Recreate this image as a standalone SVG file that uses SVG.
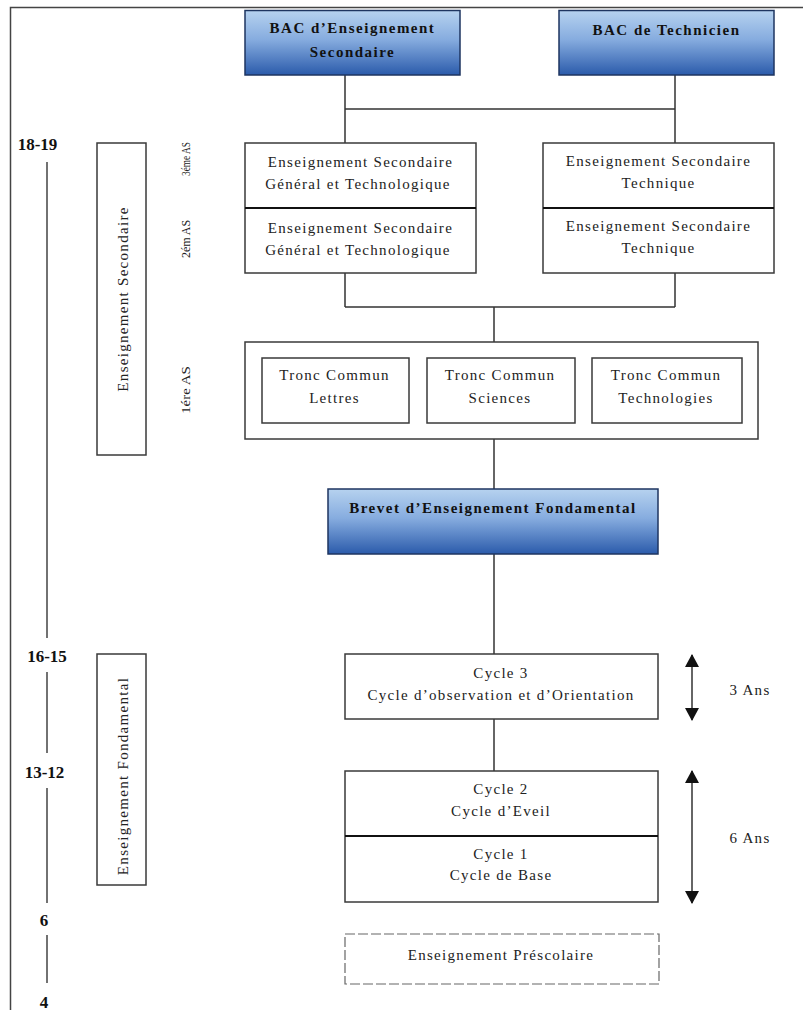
<svg xmlns="http://www.w3.org/2000/svg" width="803" height="1010" viewBox="0 0 803 1010">
  <style>
    .box { fill: #ffffff; stroke: #3a3a3a; stroke-width: 1.5; }
    .bac { fill: url(#blue); stroke: #1e3560; stroke-width: 1.5; }
    .div { stroke: #111; stroke-width: 2.2; }
    .conn { fill: none; stroke: #333; stroke-width: 1.5; }
    .scale { fill: none; stroke: #444; stroke-width: 1.5; }
    .t { font-family: "Liberation Serif", "Times New Roman", serif; font-size: 15px; letter-spacing: 1.3px; fill: #222; text-anchor: middle; }
    .b { font-family: "Liberation Serif", "Times New Roman", serif; font-size: 15px; font-weight: bold; letter-spacing: 1.5px; fill: #111; text-anchor: middle; }
    .age { font-family: "Liberation Serif", "Times New Roman", serif; font-size: 17px; font-weight: bold; fill: #111; text-anchor: middle; }
    .small { font-family: "Liberation Serif", "Times New Roman", serif; font-size: 13px; fill: #222; text-anchor: middle; }
  </style>
  <defs>
    <linearGradient id="blue" x1="0" y1="0" x2="0" y2="1">
      <stop offset="0" stop-color="#b6d2ef"/>
      <stop offset="0.45" stop-color="#86acdf"/>
      <stop offset="1" stop-color="#2b5bab"/>
    </linearGradient>
    <marker id="ah" viewBox="0 0 13 14" refX="12" refY="7" markerWidth="13" markerHeight="14" markerUnits="userSpaceOnUse" orient="auto-start-reverse">
      <path d="M0,0 L13,7 L0,14 Z" fill="#111"/>
    </marker>
  </defs>

  <rect width="803" height="1010" fill="#ffffff"/>

  <!-- outer frame -->
  <g id="frame">
    <path class="scale" d="M10.5,1010 V7.5 H803" stroke="#222"/>
  </g>

  <!-- age scale -->
  <g id="age-scale">
    <path class="scale" d="M47,162 V638 M47,672 V753 M47,788 V903 M47,935 V983"/>
    <text class="age" x="37.5" y="150">18-19</text>
    <text class="age" x="47" y="662">16-15</text>
    <text class="age" x="44.5" y="778">13-12</text>
    <text class="age" x="44" y="926">6</text>
    <text class="age" x="44" y="1008">4</text>
  </g>

  <!-- level labels -->
  <g id="label-secondaire">
    <rect class="box" x="97" y="143" width="49" height="312"/>
    <text class="t" transform="translate(128,299) rotate(-90)" x="0" y="0">Enseignement Secondaire</text>
  </g>
  <g id="label-fondamental">
    <rect class="box" x="97" y="654" width="49" height="231"/>
    <text class="t" transform="translate(128,776) rotate(-90)" x="0" y="0">Enseignement Fondamental</text>
  </g>
  <g id="year-labels">
    <text class="small" transform="translate(190,159) rotate(-90) scale(0.72,1)">3éme AS</text>
    <text class="small" transform="translate(190,239) rotate(-90) scale(0.92,1)">2ém AS</text>
    <text class="small" transform="translate(190,390) rotate(-90) scale(1.15,1)">1ére AS</text>
  </g>

  <!-- connectors -->
  <g id="connectors">
    <path class="conn" d="M345,75 V143 M675,75 V143 M345,109 H675"/>
    <path class="conn" d="M345,273 V307 M675,273 V307 M345,307 H675 M494,307 V342"/>
    <path class="conn" d="M494,439 V489"/>
    <path class="conn" d="M494,554 V654"/>
    <path class="conn" d="M494,719 V771"/>
  </g>

  <!-- nodes -->
  <g id="bac-secondaire">
    <rect class="bac" x="245" y="10.5" width="215" height="64.5"/>
    <text class="b" x="352.5" y="33">BAC d’Enseignement</text>
    <text class="b" x="352.5" y="57">Secondaire</text>
  </g>
  <g id="bac-technicien">
    <rect class="bac" x="559" y="10.5" width="215" height="64.5"/>
    <text class="b" x="666.5" y="35">BAC de Technicien</text>
  </g>

  <g id="secondaire-general">
    <rect class="box" x="245" y="143" width="231" height="130"/>
    <line class="div" x1="245" y1="208" x2="476" y2="208"/>
    <text class="t" x="360.5" y="167">Enseignement Secondaire</text>
    <text class="t" x="358" y="189">Général et Technologique</text>
    <text class="t" x="360.5" y="233">Enseignement Secondaire</text>
    <text class="t" x="358" y="255">Général et Technologique</text>
  </g>
  <g id="secondaire-technique">
    <rect class="box" x="543" y="143" width="231" height="130"/>
    <line class="div" x1="543" y1="208" x2="774" y2="208"/>
    <text class="t" x="658.5" y="166">Enseignement Secondaire</text>
    <text class="t" x="658.5" y="188">Technique</text>
    <text class="t" x="658.5" y="231">Enseignement Secondaire</text>
    <text class="t" x="658.5" y="253">Technique</text>
  </g>

  <g id="tronc-commun">
    <rect class="box" x="245" y="342" width="513" height="97"/>
  </g>
  <g id="tc-lettres">
    <rect class="box" x="262" y="358" width="147" height="65"/>
    <text class="t" x="334.5" y="380">Tronc Commun</text>
    <text class="t" x="334.5" y="403">Lettres</text>
  </g>
  <g id="tc-sciences">
    <rect class="box" x="427" y="358" width="148" height="65"/>
    <text class="t" x="500" y="380">Tronc Commun</text>
    <text class="t" x="500" y="403">Sciences</text>
  </g>
  <g id="tc-technologies">
    <rect class="box" x="592" y="358" width="150" height="65"/>
    <text class="t" x="666" y="380">Tronc Commun</text>
    <text class="t" x="666" y="403">Technologies</text>
  </g>

  <g id="brevet">
    <rect class="bac" x="328" y="489" width="330" height="65"/>
    <text class="b" x="493" y="513">Brevet d’Enseignement Fondamental</text>
  </g>

  <g id="cycle3">
    <rect class="box" x="345" y="654" width="313" height="65"/>
    <text class="t" x="501" y="678">Cycle 3</text>
    <text class="t" x="501" y="700">Cycle d’observation et d’Orientation</text>
  </g>

  <g id="cycle2-1">
    <rect class="box" x="345" y="771" width="313" height="131"/>
    <line class="div" x1="345" y1="836" x2="658" y2="836"/>
    <text class="t" x="501" y="794">Cycle 2</text>
    <text class="t" x="501" y="816">Cycle d’Eveil</text>
    <text class="t" x="501" y="859">Cycle 1</text>
    <text class="t" x="501" y="880">Cycle de Base</text>
  </g>

  <g id="prescolaire">
    <rect x="345" y="934" width="314" height="50" fill="#fff" stroke="#666" stroke-width="1.2" stroke-dasharray="10,3"/>
    <text class="t" x="501" y="960">Enseignement Préscolaire</text>
  </g>

  <!-- duration arrows -->
  <g id="duration-3">
    <line x1="692" y1="655" x2="692" y2="720" stroke="#333" stroke-width="1.5" marker-start="url(#ah)" marker-end="url(#ah)"/>
    <text class="t" x="750" y="695">3 Ans</text>
  </g>
  <g id="duration-6">
    <line x1="692" y1="771" x2="692" y2="903" stroke="#333" stroke-width="1.5" marker-start="url(#ah)" marker-end="url(#ah)"/>
    <text class="t" x="750" y="843">6 Ans</text>
  </g>
</svg>
